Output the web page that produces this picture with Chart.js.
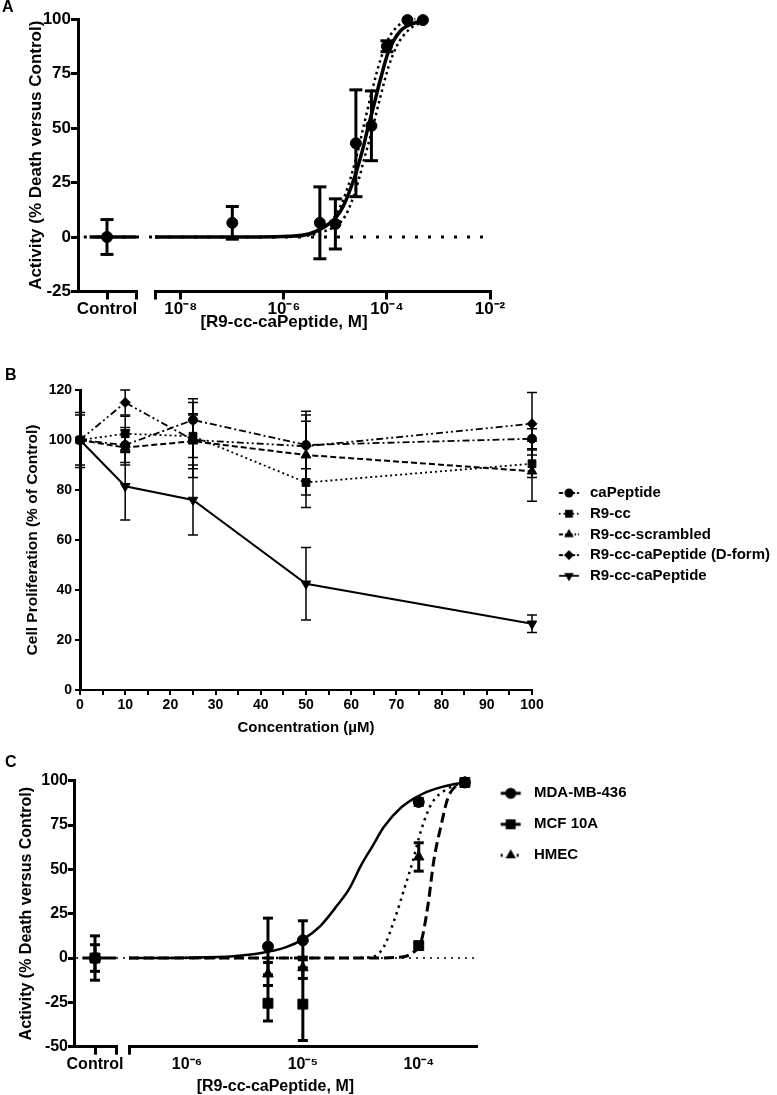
<!DOCTYPE html>
<html>
<head>
<meta charset="utf-8">
<script src="https://cdn.jsdelivr.net/npm/chart.js@4.4.1/dist/chart.umd.min.js"></script>
<style>
  body { margin: 0; background: #fff; }
  canvas { position: absolute; left: 0; }
</style>
</head>
<body>
<canvas id="chartA" width="570" height="340" style="top:0px"></canvas>
<canvas id="chartB" width="777" height="380" style="top:360px"></canvas>
<canvas id="chartC" width="777" height="350" style="top:745px"></canvas>
<script>
// ---------- panel A : R9-cc-caPeptide dose response ----------
const aConc = [1e-7, 5e-6, 1e-5, 2.5e-5, 5e-5, 1e-4, 2.5e-4, 5e-4];
const aMean = [6.5, 6.5, 6, 43, 51, 87.5, 99.5, 99.5];
const aErr = [7.5, 16.5, 11.5, 24.5, 16, 2.5, 0, 0];
const aCtrlMean = [0];
const aCtrlErr = [8];
// fitted curve and the two confidence band lines (x as log10 M)
const aFitLog = [-8.5, -6.5, -5.9, -5.5, -5.3, -5.1, -4.97, -4.85, -4.74, -4.58, -4.45, -4.37, -4.29, -4.13, -3.97, -3.74, -3.42, -3.3];
const aFit = [0, 0, 0.3, 1.5, 3.5, 6.5, 9.5, 14, 20, 31, 42, 50, 57, 72, 85, 94.5, 98.5, 99];
const aBandHiLog = [-6.2, -5.6, -5.3, -5.1, -4.97, -4.8, -4.6, -4.45, -4.3, -4.13, -3.97, -3.8, -3.6, -3.45];
const aBandHi = [0, 0.8, 3.5, 7, 11, 20, 36, 51, 66, 81, 91, 96.5, 99.5, 100];
const aBandLoLog = [-5.9, -5.5, -5.3, -5.0, -4.8, -4.6, -4.45, -4.3, -4.13, -3.97, -3.8, -3.6, -3.42, -3.3];
const aBandLo = [0, 0.8, 2, 5, 10, 22, 35, 48, 64, 78, 88, 94.5, 97.5, 98.5];
const aLogRange = [-8.5, -2];
const aLogTicks = [1e-8, 1e-6, 1e-4, 1e-2];

// ---------- panel B : proliferation ----------
const bConc = [0, 10, 25, 50, 100];
const caPeptideMean = [100, 98, 108, 98, 100.5];
const caPeptideErr = [0, 7, 8.5, 9.5, 4];
const r9ccMean = [100, 102.5, 101.5, 83, 90.5];
const r9ccErr = [0, 7, 8.5, 10, 5.5];
const scrambledMean = [100, 97, 99.5, 94, 87.5];
const scrambledErr = [0, 7, 11, 16, 12];
const dFormMean = [100, 115, 100, 97.5, 106.5];
const dFormErr = [11, 5, 15, 14, 12.5];
const r9ccCapMean = [100, 81.5, 76, 42.5, 26.5];
const r9ccCapErr = [10, 13.5, 14, 14.5, 3.5];

// ---------- panel C : three cell lines ----------
const cConc = [5e-6, 1e-5, 1e-4, 2.5e-4];
const mdaMean = [6.5, 10, 88, 99];
const mdaErr = [16, 11, 2, 0];
const mcfMean = [-25.5, -26, 7, 99];
const mcfErr = [10, 20.5, 1.5, 0];
const hmecMean = [-9, -5.5, 57, 99];
const hmecErr = [6.5, 6, 8, 0];
const cCtrlMean = [0, 0, 0];   // MDA-MB-436, MCF 10A, HMEC
const cCtrlErr = [12.5, 7.5, 0];
const mdaFitLog = [-6.5, -6.0, -5.6, -5.36, -5.15, -5.0, -4.85, -4.7, -4.6, -4.5, -4.4, -4.3, -4.15, -4.0, -3.85, -3.7, -3.6];
const mdaFit = [0, 0.2, 1, 2.8, 6, 10.5, 18, 30, 39, 52, 63, 74, 85, 91.5, 95.5, 98, 99];
const mcfFitLog = [-6.5, -4.5, -4.2, -4.12, -4.05, -3.98, -3.92, -3.87, -3.81, -3.75, -3.68, -3.6];
const mcfFit = [0, 0, 0.3, 0.9, 3, 9, 30, 55, 74, 90, 97, 99];
const hmecFitLog = [-6.5, -4.6, -4.45, -4.38, -4.3, -4.21, -4.12, -4.05, -3.98, -3.89, -3.75, -3.6];
const hmecFit = [0, 0, 0.3, 1, 6.5, 21.6, 40, 55, 72, 87, 95.5, 99];
const cLogRange = [-6.5, -3.5];
const cLogTicks = [1e-6, 1e-5, 1e-4];

const ctrlPos = 0.5;   // the "Control" slot on its own short axis

Chart.defaults.font.family = "'Liberation Sans', Arial, Helvetica, sans-serif";
Chart.defaults.font.weight = 'bold';
Chart.defaults.color = '#000';
Chart.defaults.plugins.tooltip.enabled = false;

const sup = { '-': '\u207B', '0': '\u2070', '1': '\u00B9', '2': '\u00B2', '3': '\u00B3', '4': '\u2074', '5': '\u2075', '6': '\u2076', '7': '\u2077', '8': '\u2078', '9': '\u2079' };
const powLabel = v => '10' + String(Math.round(Math.log10(v))).split('').map(c => sup[c]).join('');

const toPts = (xs, ys) => xs.map((x, i) => ({ x, y: ys[i] }));
const toLog = (exps, ys) => exps.map((e, i) => ({ x: Math.pow(10, e), y: ys[i] }));
function errorPts(xs, means, errs) {
  const out = [];
  xs.forEach((x, i) => {
    if (!errs[i]) return;
    out.push({ x, y: means[i] - errs[i] }, { x, y: means[i] + errs[i] }, { x, y: null });
  });
  return out;
}

function lineSet(data, xAxisID, width, dash, extra) {
  return Object.assign({ data, xAxisID, yAxisID: 'y', borderColor: '#000', borderWidth: width, borderDash: dash || [],
    pointRadius: 0, fill: false, clip: false, order: 2 }, extra);
}
function markerSet(data, xAxisID, style, r, extra) {
  return Object.assign({ data, xAxisID, yAxisID: 'y', showLine: false, pointStyle: style, pointRadius: r,
    pointBackgroundColor: '#000', pointBorderColor: '#000', pointBorderWidth: 1, clip: false, order: 0 }, extra);
}
function errorSet(data, xAxisID, width, capR) {
  return { data, xAxisID, yAxisID: 'y', borderColor: '#000', borderWidth: width, pointStyle: 'line', pointRadius: capR,
    pointBorderWidth: width, pointBorderColor: '#000', spanGaps: false, clip: false, order: 1 };
}

function drawMarker(g, style, x, y, r, rot) {
  g.beginPath();
  if (style === 'circle') {
    g.arc(x, y, r, 0, Math.PI * 2);
  } else if (style === 'rect') {
    const s = r * Math.SQRT1_2;
    g.rect(x - s, y - s, 2 * s, 2 * s);
  } else if (style === 'rectRot') {
    g.moveTo(x - r, y); g.lineTo(x, y - r); g.lineTo(x + r, y); g.lineTo(x, y + r); g.closePath();
  } else {
    let a = (rot || 0) * Math.PI / 180;
    for (let k = 0; k < 3; k++) {
      const px = x + Math.sin(a) * r, py = y - Math.cos(a) * r;
      if (k) g.lineTo(px, py); else g.moveTo(px, py);
      a += 2 * Math.PI / 3;
    }
    g.closePath();
  }
  g.fill();
}
// legend swatch: short line in the series' style with its marker on it
function icon(w, cx, lineW, dash, style, r, rot) {
  const c = document.createElement('canvas');
  c.width = w; c.height = 20;
  const g = c.getContext('2d');
  g.fillStyle = g.strokeStyle = '#000';
  g.lineWidth = lineW;
  g.setLineDash(dash);
  g.beginPath(); g.moveTo(cx - 10, 10); g.lineTo(cx + 10, 10); g.stroke();
  g.setLineDash([]);
  drawMarker(g, style, cx, 10, r, rot);
  return c;
}
const legendLabels = chart => Chart.defaults.plugins.legend.labels.generateLabels(chart)
  .map(it => Object.assign(it, { pointStyle: chart.data.datasets[it.datasetIndex].icon || it.pointStyle, rotation: 0 }));

function yAxis(o) {
  return {
    type: 'linear', position: 'left', min: o.min, max: o.max,
    ticks: { stepSize: o.step, font: { size: o.font }, padding: o.pad },
    grid: { drawOnChartArea: false, color: '#000', lineWidth: o.lw, tickLength: o.tick },
    border: { color: '#000', width: 3 },
    title: { display: true, text: o.title, font: { size: o.titleFont }, padding: { top: o.titlePad, bottom: 0 } },
    afterFit: s => { s.width = o.width; }
  };
}
// x axis broken in two: a short "Control" piece, a gap and the log concentration axis
function brokenX(o) {
  const grid = { drawOnChartArea: false, color: '#000', lineWidth: 3, tickLength: 8 };
  const fit = s => { s.height = o.height; };
  return {
    xc: { type: 'linear', position: 'bottom', stack: 'x', stackWeight: o.weights[0], min: 0, max: 1,
      afterBuildTicks: s => { s.ticks = [{ value: ctrlPos }, { value: 1 }]; },
      ticks: { autoSkip: false, maxRotation: 0, padding: 0, font: { size: o.font }, callback: v => v === ctrlPos ? 'Control' : '' },
      grid, border: { color: '#000', width: 3 }, afterFit: fit },
    xg: { type: 'linear', position: 'bottom', stack: 'x', stackWeight: o.weights[1], min: 0, max: 1,
      ticks: { display: false }, grid: { display: false }, border: { display: false }, afterFit: fit },
    xl: { type: 'logarithmic', position: 'bottom', stack: 'x', stackWeight: o.weights[2],
      min: Math.pow(10, o.range[0]), max: Math.pow(10, o.range[1]),
      afterBuildTicks: s => { s.ticks = [{ value: s.min }].concat(o.ticks.map(v => ({ value: v }))); },
      ticks: { autoSkip: false, maxRotation: 0, padding: 0, font: { size: o.font }, callback: (v, i) => i === 0 ? '' : powLabel(v) },
      grid: Object.assign({}, grid, { tickColor: c => (o.allTicks || c.index === 0) ? '#000' : 'rgba(0,0,0,0)' }),
      border: { color: '#000', width: 3 }, afterFit: fit }
  };
}
const base = { responsive: false, animation: false, devicePixelRatio: 1, events: [] };
const letter = (t, gap) => ({ display: true, text: t, position: 'top', align: 'start', color: '#000',
  font: { size: 16, weight: 'bold', lineHeight: 1 }, padding: { top: 0, bottom: gap } });

// ---------- A ----------
new Chart(document.getElementById('chartA'), {
  type: 'line',
  data: {
    datasets: [
      markerSet(toPts([ctrlPos], aCtrlMean), 'xc', 'circle', 5.5),
      errorSet(errorPts([ctrlPos], aCtrlMean, aCtrlErr), 'xc', 3, 6.5),
      markerSet(toPts(aConc, aMean), 'xl', 'circle', 5.5),
      errorSet(errorPts(aConc, aMean, aErr), 'xl', 3, 6.5),
      lineSet(toLog(aFitLog, aFit), 'xl', 3.5, [], { cubicInterpolationMode: 'monotone' }),
      lineSet(toLog(aBandHiLog, aBandHi), 'xl', 2.5, [2.5, 3.5], { cubicInterpolationMode: 'monotone' }),
      lineSet(toLog(aBandLoLog, aBandLo), 'xl', 2.5, [2.5, 3.5], { cubicInterpolationMode: 'monotone' }),
      lineSet(toPts([0.2, 1], [aFit[0], aFit[0]]), 'xc', 3.5),
      lineSet(toPts([0.1, 1], [0, 0]), 'xc', 3, [3, 10], { order: 3 }),
      lineSet(toPts([0, 1], [0, 0]), 'xg', 3, [3, 10], { order: 3 }),
      lineSet(toLog(aLogRange, [0, 0]), 'xl', 3, [3, 10], { order: 3 })
    ]
  },
  options: Object.assign({}, base, {
    layout: { autoPadding: false, padding: { left: 2, right: 80, top: 0, bottom: 15.4 } },
    scales: Object.assign({
      y: yAxis({ min: -25, max: 100, step: 25, font: 17, pad: 0, lw: 3, tick: 7, title: 'Activity (% Death versus Control)',
        titleFont: 17, titlePad: 23.8, width: 76 })
    }, brokenX({ weights: [58, 19, 335], range: aLogRange, ticks: aLogTicks, font: 17, height: 28, allTicks: true })),
    plugins: {
      legend: { display: false },
      subtitle: letter('A', 3),
      title: { display: true, text: '[R9-cc-caPeptide, M]', position: 'bottom', fullSize: false, color: '#000',
        font: { size: 17, weight: 'bold', lineHeight: 0.3 }, padding: { top: 0, bottom: 0 } }
    }
  })
});

// ---------- B ----------
const bSeries = [
  { label: 'caPeptide', mean: caPeptideMean, err: caPeptideErr, style: 'circle', r: 4.5, rot: 0, dash: [7, 3, 2, 3], iconDash: [4, 2], w: 1.8 },
  { label: 'R9-cc', mean: r9ccMean, err: r9ccErr, style: 'rect', r: 5.5, rot: 0, dash: [2, 3], iconDash: [1.5, 3], w: 1.8 },
  { label: 'R9-cc-scrambled', mean: scrambledMean, err: scrambledErr, style: 'triangle', r: 5.5, rot: 0, dash: [6, 3], iconDash: [4, 2, 1.5, 2], w: 2 },
  { label: 'R9-cc-caPeptide (D-form)', mean: dFormMean, err: dFormErr, style: 'rectRot', r: 5, rot: 0, dash: [7, 3, 2, 3, 2, 3], iconDash: [4, 2], w: 1.8 },
  { label: 'R9-cc-caPeptide', mean: r9ccCapMean, err: r9ccCapErr, style: 'triangle', r: 5.5, rot: 180, dash: [], iconDash: [], w: 2 }
];
const bSets = [];
bSeries.forEach(s => {
  bSets.push(Object.assign(lineSet(toPts(bConc, s.mean), 'x', s.w, s.dash), {
    label: s.label, pointStyle: s.style, pointRadius: s.r, pointRotation: s.rot,
    pointBackgroundColor: '#000', pointBorderColor: '#000', pointBorderWidth: 1, order: 0,
    icon: icon(46, 31.9, 1.8, s.iconDash, s.style, s.r, s.rot)
  }));
});
bSeries.forEach(s => bSets.push(errorSet(errorPts(bConc, s.mean, s.err), 'x', 1.5, 5)));

new Chart(document.getElementById('chartB'), {
  type: 'line',
  data: { datasets: bSets },
  options: Object.assign({}, base, {
    layout: { autoPadding: false, padding: { left: 5, right: 0, top: 8, bottom: 3 } },
    scales: {
      y: yAxis({ min: 0, max: 120, step: 20, font: 14, pad: 3, lw: 2, tick: 5, title: 'Cell Proliferation (% of Control)',
        titleFont: 15.5, titlePad: 18, width: 75 }),
      x: { type: 'linear', position: 'bottom', min: 0, max: 100,
        ticks: { stepSize: 5, autoSkip: false, maxRotation: 0, font: { size: 14 }, padding: 2, callback: v => v % 10 === 0 ? v : '' },
        grid: { drawOnChartArea: false, color: '#000', lineWidth: 2, tickLength: 5 },
        border: { color: '#000', width: 2 },
        title: { display: true, text: 'Concentration (\u00B5M)', font: { size: 15 }, padding: { top: 5.2, bottom: 0 } },
        afterFit: s => { s.height = 47; } }
    },
    plugins: {
      subtitle: letter('B', 6),
      legend: { display: true, position: 'right', align: 'start', fullSize: true, maxWidth: 245,
        title: { display: true, text: '', font: { size: 1 }, padding: { top: 110.6, bottom: 0 } },
        labels: { usePointStyle: true, pointStyleWidth: 44.8, padding: 5.7, color: '#000', font: { size: 15, weight: 'bold' },
          generateLabels: legendLabels, filter: (it, data) => !!data.datasets[it.datasetIndex].icon } }
    }
  })
});

// ---------- C ----------
const cSeries = [
  { label: 'MDA-MB-436', mean: mdaMean, err: mdaErr, fitLog: mdaFitLog, fit: mdaFit, style: 'circle', r: 5.5, dash: [], iconDash: [], w: 2.5 },
  { label: 'MCF 10A', mean: mcfMean, err: mcfErr, fitLog: mcfFitLog, fit: mcfFit, style: 'rect', r: 7, dash: [10, 5], iconDash: [], w: 3 },
  { label: 'HMEC', mean: hmecMean, err: hmecErr, fitLog: hmecFitLog, fit: hmecFit, style: 'triangle', r: 6, dash: [2.5, 4.5], iconDash: [2, 6], w: 2.5 }
];
const cSets = [];
cSeries.forEach(s => cSets.push(markerSet(toPts(cConc, s.mean), 'xl', s.style, s.r,
  { label: s.label, icon: icon(40, 21.1, 3, s.iconDash, s.style, s.r, 0) })));
cSeries.forEach((s, i) => {
  cSets.push(markerSet(toPts([ctrlPos], [cCtrlMean[i]]), 'xc', s.style, s.r));
  cSets.push(errorSet(errorPts([ctrlPos], [cCtrlMean[i]], [cCtrlErr[i]]), 'xc', 3, 5));
  cSets.push(errorSet(errorPts(cConc, s.mean, s.err), 'xl', 3, 5));
  cSets.push(lineSet(toLog(s.fitLog, s.fit), 'xl', s.w, s.dash, { cubicInterpolationMode: 'monotone' }));
});
cSets.push(lineSet(toPts([0.2, 1], [0, 0]), 'xc', 3));
cSets.push(lineSet(toPts([0.05, 1], [0, 0]), 'xc', 1.5, [2, 5], { order: 3 }));
cSets.push(lineSet(toPts([0, 1], [0, 0]), 'xg', 1.5, [2, 5], { order: 3 }));
cSets.push(lineSet(toLog(cLogRange, [0, 0]), 'xl', 1.5, [2, 5], { order: 3 }));

new Chart(document.getElementById('chartC'), {
  type: 'line',
  data: { datasets: cSets },
  options: Object.assign({}, base, {
    layout: { autoPadding: false, padding: { left: 5, right: 142.3, top: 10, bottom: 0 } },
    scales: Object.assign({
      y: yAxis({ min: -50, max: 100, step: 25, font: 16, pad: 0, lw: 3, tick: 6, title: 'Activity (% Death versus Control)',
        titleFont: 16, titlePad: 12.4, width: 69 })
    }, brokenX({ weights: [42, 13, 347.7], range: cLogRange, ticks: cLogTicks, font: 16, height: 28, allTicks: false })),
    plugins: {
      subtitle: letter('C', 9.7),
      title: { display: true, text: '[R9-cc-caPeptide, M]', position: 'bottom', fullSize: false, color: '#000',
        font: { size: 16, weight: 'bold', lineHeight: 1 }, padding: { top: 4.3, bottom: 0 } },
      legend: { display: true, position: 'right', align: 'start', fullSize: true, maxWidth: 158,
        title: { display: true, text: '', font: { size: 1 }, padding: { top: 13.6, bottom: 0 } },
        labels: { usePointStyle: true, pointStyleWidth: 33.8, padding: 16, color: '#000', font: { size: 15, weight: 'bold' },
          generateLabels: legendLabels, filter: (it, data) => !!data.datasets[it.datasetIndex].icon } }
    }
  })
});
</script>
</body>
</html>
